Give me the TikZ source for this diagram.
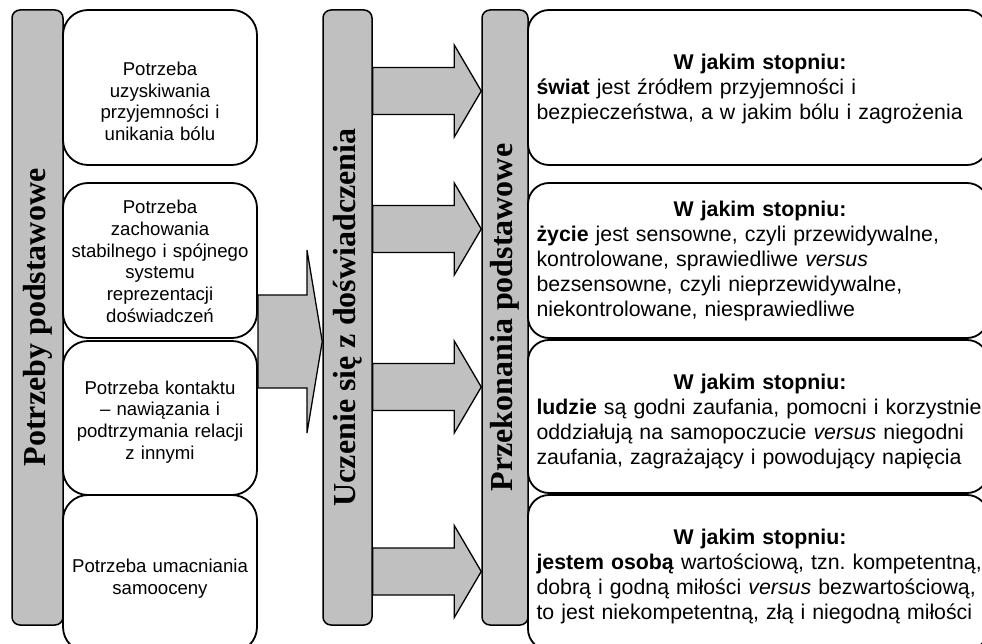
\documentclass[tikz,border=0pt]{standalone}
\usepackage{fontspec}
\setmainfont{Liberation Serif}
\newfontfamily\arialf{Liberation Sans}
\usetikzlibrary{calc}
\definecolor{barfill}{RGB}{192,192,192}
\frenchspacing
\begin{document}
\begin{tikzpicture}[x=1pt,y=-1pt,
  bar/.style={draw, line width=1.5pt, fill=barfill, rounded corners=8pt, inner sep=0pt},
  bartext/.style={rotate=90, font=\fontsize{32}{36}\selectfont\bfseries, inner sep=0pt},
  lbox/.style={draw, line width=1.8pt, fill=white, rounded corners=25pt, minimum width=194pt, inner sep=0pt},
  ltxt/.style={inner sep=0pt, align=center, text width=185pt, font=\arialf\fontsize{18.6}{21.7}\selectfont},
  rbox/.style={draw, line width=1.8pt, fill=white, rounded corners=21pt, minimum width=460pt, inner sep=0pt},
  rtxt/.style={inner sep=0pt, align=left, text width=447pt, font=\arialf\fontsize{21.3}{25}\selectfont},
  fatarrow/.style={draw, line width=1.3pt, fill=barfill, line join=miter}
]
\useasboundingbox (0,0) rectangle (982,644);
\fill[white] (0,0) rectangle (982,644);

% bars
\node[bar, minimum width=51pt, minimum height=615pt] (lbar) at (37.5,317.5) {};
\node[bar, minimum width=49pt, minimum height=615pt] (mbar) at (347.5,317.5) {};
\node[bar, minimum width=46pt, minimum height=615pt] (rbar) at (505,317.5) {};
\node[bartext] (ltext) at (lbar.center) {Potrzeby podstawowe};
\node[bartext] (mtext) at (mbar.center) {Uczenie się z doświadczenia};
\node[bartext] (rtext) at (rbar.center) {Przekonania podstawowe};

% small arrows from middle bar to right bar
\foreach \t [count=\i] in {91,229,387,571.5} {
  \coordinate (s\i) at (mbar.east |- 0,\t);
  \coordinate (e\i) at (rbar.west |- 0,\t);
  \draw[fatarrow] ($(s\i)+(0,-23.5)$) -- ($(e\i)+(-27,-23.5)$) -- ($(e\i)+(-27,-46)$) -- (e\i)
    -- ($(e\i)+(-27,46)$) -- ($(e\i)+(-27,23.5)$) -- ($(s\i)+(0,23.5)$) -- cycle;
}

% left boxes
\node[lbox, minimum height=155pt] (lb1) at (160,87.5) {};
\node[lbox, minimum height=155pt] (lb2) at (160,260.5) {};

% big arrow from left boxes to middle bar
\coordinate (bt) at (mbar.west |- 0,341.5);
\draw[fatarrow] (lb2.east |- 0,295) -- (307,295) -- (307,250) -- (bt) -- (307,433) -- (307,388) -- (lb2.east |- 0,388) -- cycle;

\node[lbox, minimum height=154pt] (lb3) at (160,418) {};
\node[lbox, minimum height=157pt] (lb4) at (160,573.5) {};

\node[ltxt] (lt1) at ($(lb1.center)+(0,14)$) {Potrzeba\\uzyskiwania\\przyjemności i\\unikania bólu};
\node[ltxt] (lt2) at ($(lb2.center)+(0,1)$) {Potrzeba\\zachowania\\stabilnego i spójnego\\systemu\\reprezentacji\\doświadczeń};
\node[ltxt] (lt3) at ($(lb3.center)+(0,4)$) {Potrzeba kontaktu\\– nawiązania i\\podtrzymania relacji\\z innymi};
\node[ltxt] (lt4) at ($(lb4.center)+(0,5)$) {Potrzeba umacniania\\samooceny};

% right boxes
\node[rbox, minimum height=155pt] (rb1) at (758,87.5) {};
\node[rbox, minimum height=155pt] (rb2) at (758,260.5) {};
\node[rbox, minimum height=153pt] (rb3) at (758,416.5) {};
\node[rbox, minimum height=155pt] (rb4) at (758,572.5) {};

\node[rtxt] (rt1) at ($(rb1.center)+(2,1)$) {\makebox[447pt]{\textbf{W jakim stopniu:}}\\
\textbf{świat} jest źródłem przyjemności i\\
bezpieczeństwa, a w jakim bólu i zagrożenia};
\node[rtxt] (rt2) at ($(rb2.center)+(2,0)$) {\makebox[447pt]{\textbf{W jakim stopniu:}}\\
\textbf{życie} jest sensowne, czyli przewidywalne,\\
kontrolowane, sprawiedliwe \textit{versus}\\
bezsensowne, czyli nieprzewidywalne,\\
niekontrolowane, niesprawiedliwe};
\node[rtxt] (rt3) at ($(rb3.center)+(2,5)$) {\makebox[447pt]{\textbf{W jakim stopniu:}}\\
\textbf{ludzie} są godni zaufania, pomocni i korzystnie\\
oddziałują na samopoczucie \textit{versus} niegodni\\
zaufania, zagrażający i powodujący napięcia};
\node[rtxt] (rt4) at ($(rb4.center)+(2,4)$) {\makebox[447pt]{\textbf{W jakim stopniu:}}\\
\makebox[447pt][s]{\textbf{jestem osobą} wartościową, tzn. kompetentną,}\\
\makebox[447pt][s]{dobrą i godną miłości \textit{versus} bezwartościową,}\\
to jest niekompetentną, złą i niegodną miłości};
\end{tikzpicture}
\end{document}
